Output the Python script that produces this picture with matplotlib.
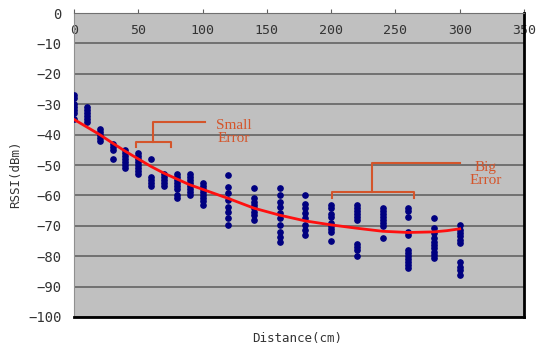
import numpy as np
import matplotlib.pyplot as plt

# measured RSSI samples, one list per distance (cm)
distances = [0, 10, 20, 30, 40, 50, 60, 70, 80, 90, 100,
             120, 140, 160, 180, 200, 220, 240, 260, 280, 300]
rssi = [
    [-27, -28, -30, -31, -32, -33, -35],
    [-31, -32, -33, -34, -35, -36],
    [-38, -39, -40, -41, -42],
    [-43, -44, -45, -48],
    [-45, -46, -47, -48, -49, -50, -51],
    [-46, -47, -48, -49, -50, -51, -52, -53],
    [-48, -54, -55, -56, -57],
    [-53, -54, -55, -56, -57],
    [-53, -54, -55, -56, -57, -58, -60, -61],
    [-53, -54, -55, -56, -57, -58, -59, -60],
    [-56, -57, -58, -59, -60, -61, -62, -63],
    [-53.3, -57.1, -59.3, -61.5, -63.7, -65.4, -67.5, -69.7],
    [-57.7, -61, -62.1, -63.2, -64.3, -65.4, -66.5, -68.1],
    [-57.7, -59.9, -62.1, -63.7, -65.9, -67.5, -69.7, -71.9, -73.6, -75.2],
    [-59.9, -62.7, -64.3, -65.9, -67.5, -69.7, -71.3, -73],
    [-63, -64, -66, -67, -69, -70, -71, -72, -75],
    [-63, -64, -65, -66, -67, -68, -76, -77, -78, -80],
    [-64, -65, -66, -67, -68, -69, -70, -74],
    [-64, -65, -67, -72, -73, -78, -79, -80, -81, -82, -83, -84],
    [-67.5, -70.8, -72.5, -74.1, -75.2, -76.3, -77.4, -78.5, -79.6, -80.7],
    [-69.7, -71.3, -72.4, -73.5, -74.6, -75.7, -81.8, -83.4, -84.5, -86.2],
]

# fitted curve
fit_x = [0, 10, 20, 30, 40, 50, 60, 70, 80, 90, 100, 120, 140, 160,
         180, 200, 220, 240, 260, 280, 290, 300]
fit_y = [-35, -37.5, -40, -42.8, -45.5, -48, -50.5, -52.7, -54.6, -56.5, -58,
         -61, -64.2, -66.5, -68.4, -69.7, -70.8, -71.8, -72.2, -72, -71.6, -71]

x_ticks = [0, 50, 100, 150, 200, 250, 300, 350]
y_ticks = [0, -10, -20, -30, -40, -50, -60, -70, -80, -90, -100]

fig = plt.figure(figsize=(5.42, 3.48), dpi=100)
ax = fig.add_axes([0.1365, 0.0891, 0.8303, 0.8735])
ax.set_facecolor('#c0c0c0')

for d, vals in zip(distances, rssi):
    ax.plot([d] * len(vals), vals, 'o', color='#000080', ms=3.8, zorder=3)

ax.plot(fit_x, fit_y, color='#ff1010', lw=2, zorder=4)

# brackets
oc = '#d4552b'
ax.plot([48, 48, 75.5, 75.5], [-44, -42.3, -42.3, -44], color=oc, lw=1.5, zorder=5)
ax.plot([61.7, 61.7, 102], [-42.3, -35.7, -35.7], color=oc, lw=1.5, zorder=5)
ax.text(124, -39, 'Small\nError', color=oc, ha='center', va='center',
        family='Liberation Serif', fontsize=11, linespacing=1.0)
ax.plot([201, 201, 264.5, 264.5], [-61, -58.8, -58.8, -61], color=oc, lw=1.5, zorder=5)
ax.plot([231.5, 231.5, 300], [-58.8, -49.5, -49.5], color=oc, lw=1.5, zorder=5)
ax.text(320, -53, 'Big\nError', color=oc, ha='center', va='center',
        family='Liberation Serif', fontsize=11, linespacing=1.0)

ax.set_xlim(0, 350)
ax.set_ylim(-100, 0)
ax.set_xticks(x_ticks)
ax.set_yticks(y_ticks)
ax.xaxis.tick_top()
ax.tick_params(axis='x', direction='out', length=3, pad=-20, color='#606060',
               labelsize=9.5, labelcolor='#333333')
ax.tick_params(axis='y', length=0, pad=9, labelsize=10, labelcolor='#333333')
for lab in ax.get_xticklabels() + ax.get_yticklabels():
    lab.set_family('DejaVu Sans Mono')

ax.grid(axis='y', color='#6a6a6a', lw=1.3)
ax.set_axisbelow(True)

ax.spines['top'].set_color('#707070')
ax.spines['left'].set_color('#909090')
ax.spines['right'].set_color('black')
ax.spines['right'].set_linewidth(2)
ax.spines['bottom'].set_color('black')
ax.spines['bottom'].set_linewidth(2)

fig.text(0.028, 0.50, 'RSSI(dBm)', rotation=90, ha='center', va='center',
         family='DejaVu Sans Mono', fontsize=9, color='#333333')
fig.text(0.548, 0.028, 'Distance(cm)', ha='center', va='center',
         family='DejaVu Sans Mono', fontsize=9, color='#333333')

fig.savefig('out.png', dpi=100)
